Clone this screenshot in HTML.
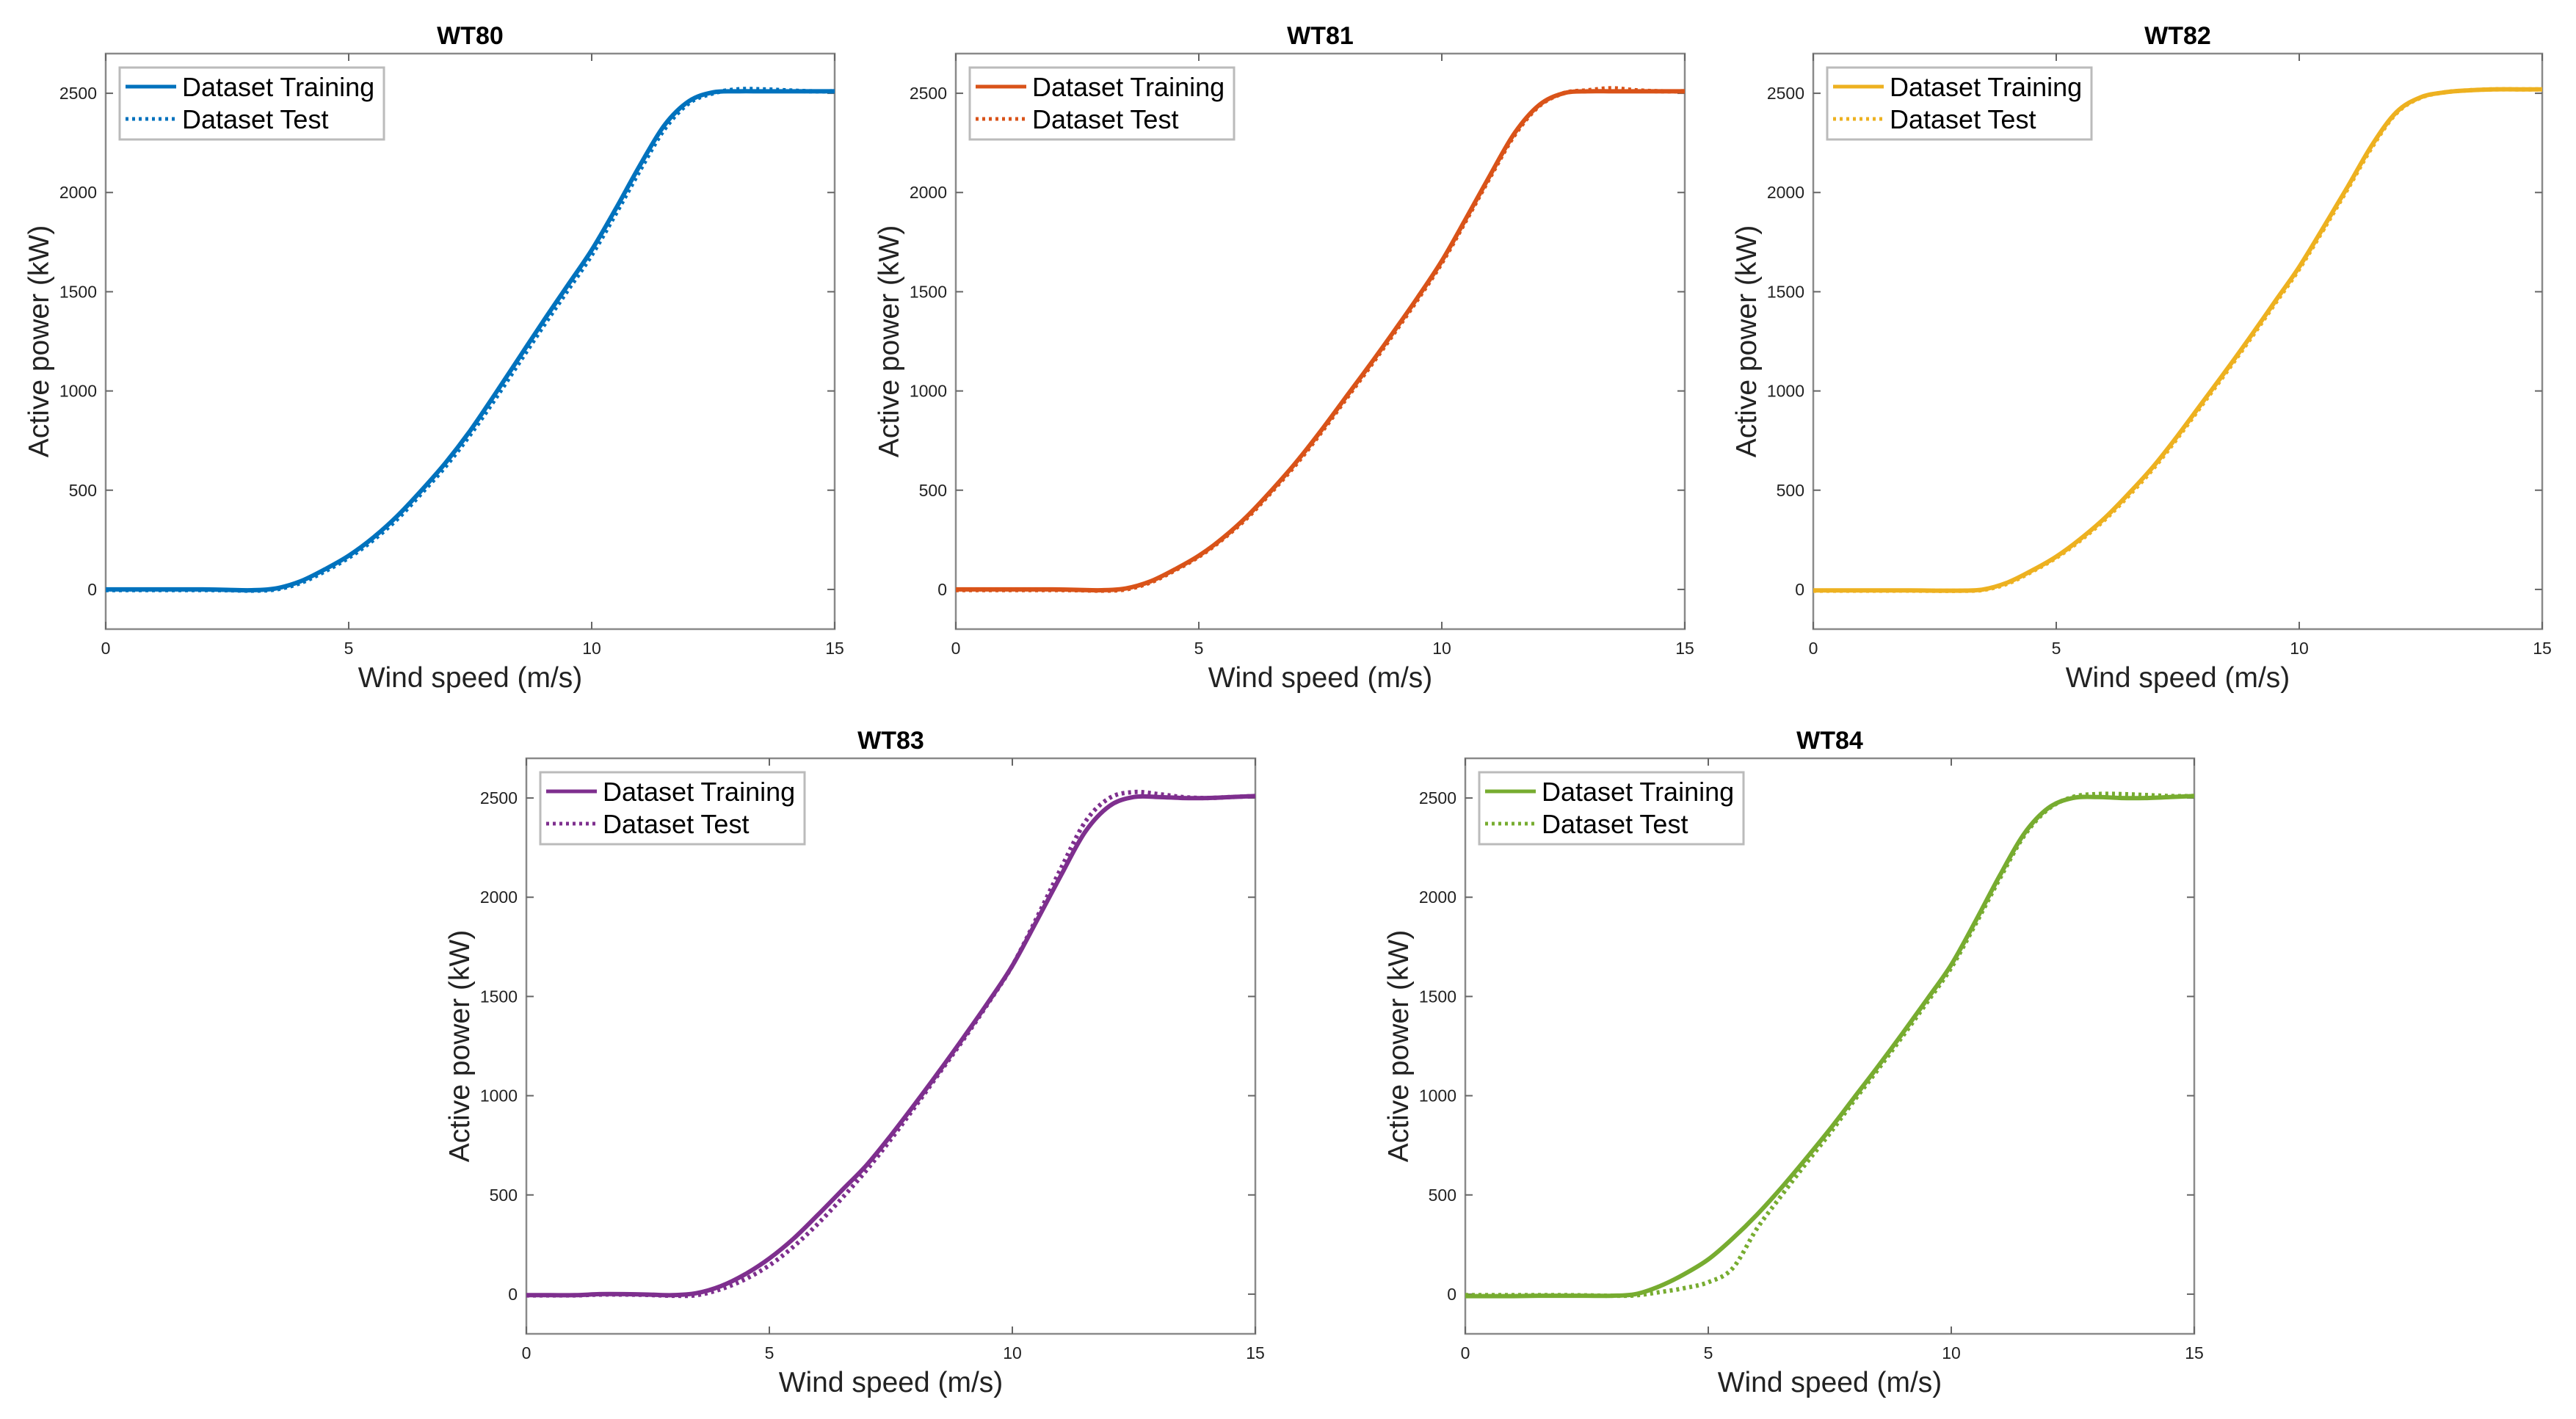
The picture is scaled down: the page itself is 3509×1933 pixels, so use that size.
<!DOCTYPE html>
<html><head><meta charset="utf-8">
<style>
html,body{margin:0;padding:0;background:#fff;}
svg{display:block;font-family:"Liberation Sans",sans-serif;}
</style></head>
<body>
<svg id="fig" width="3509" height="1933" viewBox="0 0 3509 1933" xmlns="http://www.w3.org/2000/svg"></svg>
<script>
const windSpeed = [0,0.5,1,1.5,2,2.5,3,3.5,4,4.5,5,5.5,6,6.5,7,7.5,8,8.5,9,9.5,10,10.5,11,11.5,12,12.5,13,13.5,14,14.5,15];
const xTicks = [0,5,10,15];
const yTicks = [0,500,1000,1500,2000,2500];
const panelTitles = ["WT80","WT81","WT82","WT83","WT84"];
const panelColors = ["#0072BD","#D95319","#EDB120","#7E2F8E","#77AC30"];
const train80 = [0,0,0,0,0,-2,-4,5,40,100,170,260,370,500,640,800,980,1165,1350,1530,1710,1920,2140,2340,2460,2505,2510,2510,2510,2510,2510];
const test80  = [-3,-3,-3,-3,-3,-4,-6,0,32,90,160,248,355,485,622,780,955,1140,1325,1505,1685,1895,2115,2320,2450,2500,2520,2520,2515,2510,2510];
const train81 = [0,0,0,0,0,-2,-4,5,40,100,170,260,370,500,640,795,960,1125,1295,1470,1655,1870,2090,2300,2440,2500,2510,2510,2510,2510,2510];
const test81  = [-3,-3,-3,-3,-3,-4,-6,0,35,95,165,255,362,492,630,785,950,1115,1285,1460,1645,1860,2080,2290,2435,2500,2515,2525,2515,2510,2510];
const train82 = [-5,-5,-5,-5,-5,-6,-6,0,35,95,165,255,360,485,620,775,940,1105,1275,1450,1625,1825,2030,2240,2405,2480,2505,2515,2520,2520,2520];
const test82  = [-6,-6,-6,-6,-6,-7,-7,-2,30,90,160,248,352,475,610,765,930,1095,1265,1440,1615,1815,2020,2230,2400,2478,2505,2515,2520,2520,2520];
const train83 = [-5,-5,-5,0,0,-2,-5,5,40,100,180,280,400,525,650,800,960,1125,1295,1470,1655,1880,2110,2330,2460,2505,2505,2500,2500,2505,2510];
const test83  = [-6,-6,-6,-2,-2,-4,-8,-5,25,75,145,240,355,485,625,780,945,1115,1285,1465,1655,1895,2145,2380,2500,2530,2520,2505,2500,2505,2510];
const train84 = [-10,-10,-10,-8,-8,-8,-8,0,40,100,175,280,400,535,680,830,990,1150,1315,1485,1660,1880,2110,2320,2450,2500,2505,2500,2500,2505,2510];
const test84  = [-5,-5,-5,-5,-5,-6,-8,-6,10,30,60,130,330,495,655,810,975,1135,1300,1470,1645,1865,2095,2310,2445,2505,2520,2520,2515,2510,2510];
const trainSeries = [train80,train81,train82,train83,train84];
const testSeries = [test80,test81,test82,test83,test84];

const NS = "http://www.w3.org/2000/svg";
const svg = document.getElementById("fig");
const layout = [[144,73],[1302,73],[2470,73],[717,1033],[1996,1033]];
const PW = 993, PH = 784, XMIN = 0, XMAX = 15, YMIN = -200, YMAX = 2700;

function mk(tag, attrs, parent){
  const e = document.createElementNS(NS, tag);
  for (const k in attrs) e.setAttribute(k, attrs[k]);
  (parent||svg).appendChild(e);
  return e;
}
function smoothPath(pts){
  let d = "M" + pts[0][0].toFixed(1) + "," + pts[0][1].toFixed(1);
  for (let i=0;i<pts.length-1;i++){
    const p0 = pts[Math.max(0,i-1)], p1 = pts[i], p2 = pts[i+1], p3 = pts[Math.min(pts.length-1,i+2)];
    const c1x = p1[0]+(p2[0]-p0[0])/6, c1y = p1[1]+(p2[1]-p0[1])/6;
    const c2x = p2[0]-(p3[0]-p1[0])/6, c2y = p2[1]-(p3[1]-p1[1])/6;
    d += " C"+c1x.toFixed(1)+","+c1y.toFixed(1)+" "+c2x.toFixed(1)+","+c2y.toFixed(1)+" "+p2[0].toFixed(1)+","+p2[1].toFixed(1);
  }
  return d;
}

for (let p=0;p<5;p++){
  const L = layout[p][0], T = layout[p][1];
  const sx = v => L + (v-XMIN)/(XMAX-XMIN)*PW;
  const sy = v => T + PH - (v-YMIN)/(YMAX-YMIN)*PH;
  const col = panelColors[p];
  const g = mk("g", {});
  
  

  const box = mk("rect", {x:L,y:T,width:PW,height:PH,fill:"#fff",stroke:"#8a8a8a","stroke-width":2.5}, g);
  
  

  xTicks.forEach(t=>{
    const x = sx(t);
    mk("line",{x1:x,y1:T+PH,x2:x,y2:T+PH-10,stroke:"#666","stroke-width":2},g);
    mk("line",{x1:x,y1:T,x2:x,y2:T+10,stroke:"#666","stroke-width":2},g);
    const tl = mk("text",{x:x,y:T+PH+34,"font-size":23,"text-anchor":"middle",fill:"#222"},g);
    tl.textContent = t;
    
    
  });
  yTicks.forEach(t=>{
    const y = sy(t);
    mk("line",{x1:L,y1:y,x2:L+10,y2:y,stroke:"#666","stroke-width":2},g);
    mk("line",{x1:L+PW,y1:y,x2:L+PW-10,y2:y,stroke:"#666","stroke-width":2},g);
    const tl = mk("text",{x:L-12,y:y+8,"font-size":23,"text-anchor":"end",fill:"#222"},g);
    tl.textContent = t;
    
    
  });

  const trainPts = windSpeed.map((w,i)=>[sx(w), sy(trainSeries[p][i])]);
  const testPts = windSpeed.map((w,i)=>[sx(w), sy(testSeries[p][i])]);
  const lt = mk("path",{d:smoothPath(trainPts),fill:"none",stroke:col,"stroke-width":6,"stroke-linejoin":"round"},g);
  
  
  const ls = mk("path",{d:smoothPath(testPts),fill:"none",stroke:col,"stroke-width":6,"stroke-dasharray":"4 5"},g);
  
  

  const title = mk("text",{x:L+PW/2,y:T-13,"font-size":34,"font-weight":"bold","text-anchor":"middle",fill:"#000"},g);
  title.textContent = panelTitles[p];
  
  

  const xl = mk("text",{x:L+PW/2,y:T+PH+79,"font-size":39,"text-anchor":"middle",fill:"#222"},g);
  xl.textContent = "Wind speed (m/s)";
  
  

  const yl = mk("text",{x:0,y:0,"font-size":39,"text-anchor":"middle",fill:"#222",transform:"translate("+(L-78)+","+(T+PH/2)+") rotate(-90)"},g);
  yl.textContent = "Active power (kW)";
  
  

  const lg = mk("g",{},g);
  
  
  mk("rect",{x:L+19,y:T+19,width:360,height:98,fill:"#fff",stroke:"#bbb","stroke-width":3},lg);
  mk("line",{x1:L+27,y1:T+45,x2:L+96,y2:T+45,stroke:col,"stroke-width":5},lg);
  mk("line",{x1:L+27,y1:T+89,x2:L+96,y2:T+89,stroke:col,"stroke-width":5,"stroke-dasharray":"4 5"},lg);
  const t1 = mk("text",{x:L+104,y:T+58,"font-size":36,fill:"#000"},lg);
  t1.textContent = "Dataset Training";
  
  
  const t2 = mk("text",{x:L+104,y:T+102,"font-size":36,fill:"#000"},lg);
  t2.textContent = "Dataset Test";
  
  
}
</script>
</body></html>
